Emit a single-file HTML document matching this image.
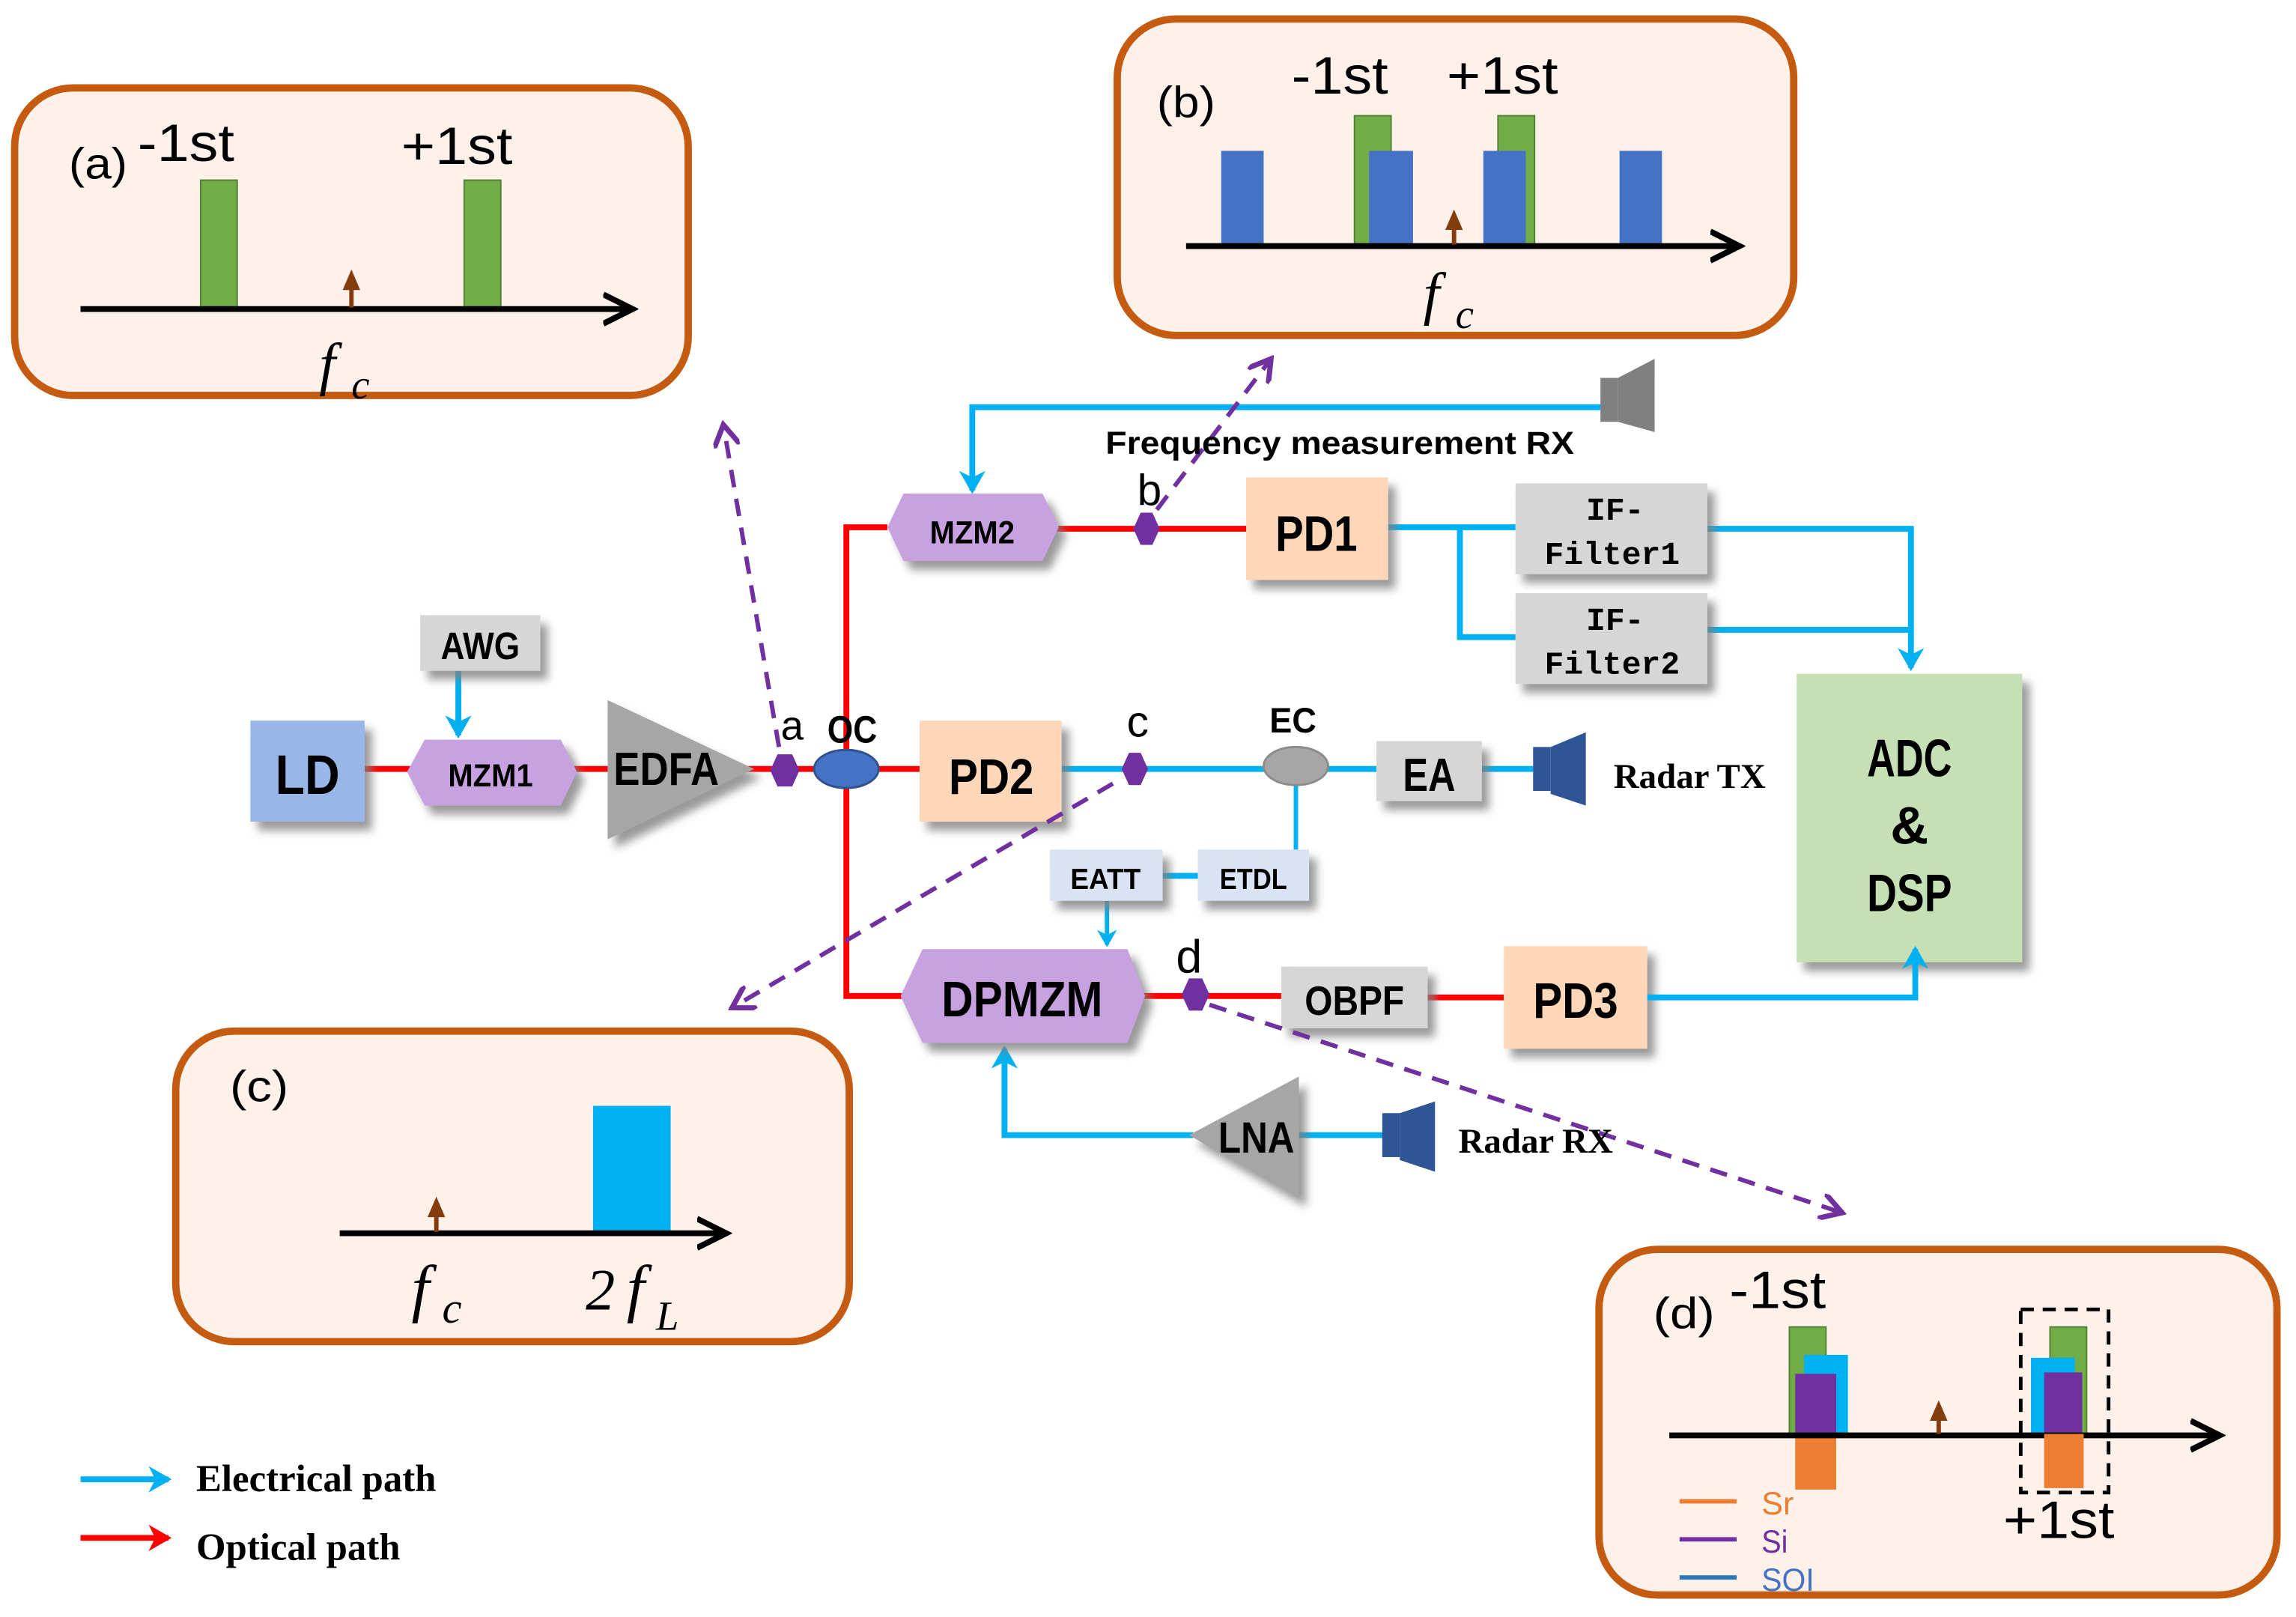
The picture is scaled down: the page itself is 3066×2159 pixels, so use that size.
<!DOCTYPE html>
<html><head><meta charset="utf-8"><style>
html,body{margin:0;padding:0;background:#fff;}
svg{display:block;}
text{font-family:"Liberation Sans Narrow","Liberation Sans",sans-serif;font-weight:bold;fill:#000;}
.s{font-family:"Liberation Serif",serif;font-weight:bold;}
.m{font-family:"Liberation Mono",monospace;font-weight:bold;}
.i{font-family:"Liberation Serif",serif;font-style:italic;font-weight:normal;}
.n{font-family:"Liberation Sans",sans-serif;font-weight:normal;}
</style></head><body>
<svg width="3066" height="2159" viewBox="0 0 1568 1104" preserveAspectRatio="none" xmlns="http://www.w3.org/2000/svg">
<defs>
<filter id="sh" x="-20%" y="-20%" width="150%" height="150%"><feDropShadow dx="5" dy="6" stdDeviation="3" flood-color="#808080" flood-opacity="0.8"/></filter>
<marker id="ab" viewBox="0 0 8 8" markerWidth="4.5" markerHeight="4.5" refX="6" refY="4" orient="auto" markerUnits="strokeWidth"><path d="M0,0 L7,4 L0,8 L2,4z" fill="#00b0f0"/></marker>
<marker id="ar" viewBox="0 0 8 8" markerWidth="4.5" markerHeight="4.5" refX="6" refY="4" orient="auto" markerUnits="strokeWidth"><path d="M0,0 L7,4 L0,8 L2,4z" fill="#ff0000"/></marker>
<marker id="ap" markerWidth="6" markerHeight="6" refX="5" refY="3" orient="auto" markerUnits="strokeWidth"><path d="M0,0 L5,3 L0,6" fill="none" stroke="#7030a0" stroke-width="1.2"/></marker>
<marker id="ak" markerWidth="6" markerHeight="6" refX="5" refY="3" orient="auto" markerUnits="strokeWidth"><path d="M0,0.5 L5,3 L0,5.5" fill="none" stroke="#000" stroke-width="1"/></marker>
</defs>

<!-- Box (a) -->
<rect x="10" y="60" width="460" height="210" rx="40" fill="#fdf1ea" stroke="#c55a11" stroke-width="5"/>
<text x="47" y="122" class="n" font-size="30" textLength="40" lengthAdjust="spacingAndGlyphs">(a)</text>
<text x="94" y="110" class="n" font-size="36" textLength="66" lengthAdjust="spacingAndGlyphs">-1st</text>
<text x="274" y="112" class="n" font-size="36" textLength="76" lengthAdjust="spacingAndGlyphs">+1st</text>
<rect x="137" y="123" width="25" height="87" fill="#70ad47" stroke="#548235"/>
<rect x="317" y="123" width="25" height="87" fill="#70ad47" stroke="#548235"/>
<line x1="55" y1="211" x2="432" y2="211" stroke="#000" stroke-width="4" marker-end="url(#ak)"/>
<line x1="240" y1="210" x2="240" y2="196" stroke="#843c0c" stroke-width="3"/>
<path d="M234,198 L240,184 L246,198z" fill="#843c0c"/>
<text x="218" y="262" class="i" font-size="40">f</text><text x="240" y="272" class="i" font-size="28">c</text>

<!-- Box (b) -->
<rect x="763" y="13" width="462" height="216" rx="40" fill="#fdf1ea" stroke="#c55a11" stroke-width="5"/>
<text x="790" y="80" class="n" font-size="30" textLength="40" lengthAdjust="spacingAndGlyphs">(b)</text>
<text x="882" y="64" class="n" font-size="36" textLength="66" lengthAdjust="spacingAndGlyphs">-1st</text>
<text x="988" y="64" class="n" font-size="36" textLength="76" lengthAdjust="spacingAndGlyphs">+1st</text>
<rect x="925" y="79" width="25" height="89" fill="#70ad47" stroke="#548235"/>
<rect x="1023" y="79" width="25" height="89" fill="#70ad47" stroke="#548235"/>
<rect x="834" y="103" width="29" height="65" fill="#4472c4"/>
<rect x="935" y="103" width="30" height="65" fill="#4472c4"/>
<rect x="1013" y="103" width="29" height="65" fill="#4472c4"/>
<rect x="1106" y="103" width="29" height="65" fill="#4472c4"/>
<line x1="810" y1="168" x2="1188" y2="168" stroke="#000" stroke-width="4" marker-end="url(#ak)"/>
<line x1="993" y1="167" x2="993" y2="155" stroke="#843c0c" stroke-width="3"/>
<path d="M987,157 L993,143 L999,157z" fill="#843c0c"/>
<text x="972" y="214" class="i" font-size="40">f</text><text x="994" y="224" class="i" font-size="28">c</text>

<!-- Box (c) -->
<rect x="120" y="704" width="460" height="212" rx="40" fill="#fdf1ea" stroke="#c55a11" stroke-width="5"/>
<text x="157" y="752" class="n" font-size="30" textLength="40" lengthAdjust="spacingAndGlyphs">(c)</text>
<rect x="405" y="755" width="53" height="87" fill="#00b0f0"/>
<line x1="232" y1="842" x2="496" y2="842" stroke="#000" stroke-width="4" marker-end="url(#ak)"/>
<line x1="298" y1="841" x2="298" y2="829" stroke="#843c0c" stroke-width="3"/>
<path d="M292,831 L298,817 L304,831z" fill="#843c0c"/>
<text x="281" y="894" class="i" font-size="44">f</text><text x="302" y="903" class="i" font-size="30">c</text>
<text x="400" y="894" class="i" font-size="40">2</text><text x="428" y="894" class="i" font-size="44">f</text><text x="448" y="908" class="i" font-size="28">L</text>

<!-- Box (d) -->
<rect x="1092" y="853" width="463" height="236" rx="40" fill="#fdf1ea" stroke="#c55a11" stroke-width="5"/>
<text x="1129" y="907" class="n" font-size="30" textLength="42" lengthAdjust="spacingAndGlyphs">(d)</text>
<text x="1181" y="893" class="n" font-size="36" textLength="66" lengthAdjust="spacingAndGlyphs">-1st</text>
<rect x="1222" y="906" width="25" height="74" fill="#70ad47" stroke="#548235"/>
<rect x="1232" y="925" width="30" height="55" fill="#00b0f0"/>
<rect x="1226" y="938" width="28" height="42" fill="#7030a0"/>
<rect x="1226" y="980" width="28" height="37" fill="#ed7d31"/>
<rect x="1400" y="906" width="25" height="74" fill="#70ad47" stroke="#548235"/>
<rect x="1387" y="927" width="30" height="53" fill="#00b0f0"/>
<rect x="1396" y="937" width="26" height="43" fill="#7030a0"/>
<line x1="1140" y1="980" x2="1516" y2="980" stroke="#000" stroke-width="4" marker-end="url(#ak)"/>
<rect x="1396" y="979" width="27" height="37" fill="#ed7d31"/>
<rect x="1380" y="894" width="60" height="125" fill="none" stroke="#000" stroke-width="2.5" stroke-dasharray="9,6"/>
<line x1="1324" y1="979" x2="1324" y2="968" stroke="#843c0c" stroke-width="3"/>
<path d="M1318,970 L1324,956 L1330,970z" fill="#843c0c"/>
<line x1="1147" y1="1025" x2="1186" y2="1025" stroke="#ed7d31" stroke-width="3"/>
<line x1="1147" y1="1051" x2="1186" y2="1051" stroke="#7030a0" stroke-width="3"/>
<line x1="1147" y1="1077" x2="1186" y2="1077" stroke="#2e75b6" stroke-width="3"/>
<text x="1203" y="1034" class="n" font-size="22" style="fill:#ed7d31" textLength="22" lengthAdjust="spacingAndGlyphs">Sr</text>
<text x="1203" y="1060" class="n" font-size="22" style="fill:#7030a0" textLength="18" lengthAdjust="spacingAndGlyphs">Si</text>
<text x="1203" y="1086" class="n" font-size="22" style="fill:#4472c4" textLength="36" lengthAdjust="spacingAndGlyphs">SOI</text>
<text x="1368" y="1050" class="n" font-size="36" textLength="76" lengthAdjust="spacingAndGlyphs">+1st</text>

<!-- Optical (red) lines -->
<g stroke="#ff0000" stroke-width="4" fill="none">
<line x1="249" y1="525" x2="280" y2="525"/>
<line x1="392" y1="525" x2="415" y2="525"/>
<line x1="510" y1="525" x2="628" y2="525"/>
<polyline points="606,360 578,360 578,680 617,680"/>
<line x1="720" y1="361" x2="851" y2="361"/>
<line x1="780" y1="680" x2="875" y2="680"/>
<line x1="975" y1="681" x2="1027" y2="681"/>
</g>

<!-- Electrical (blue) lines -->
<g stroke="#00b0f0" stroke-width="4" fill="none">
<line x1="313" y1="458" x2="313" y2="502" marker-end="url(#ab)"/>
<polyline points="1095,278 664,278 664,335" marker-end="url(#ab)"/>
<line x1="948" y1="360" x2="1035" y2="360"/>
<polyline points="997,360 997,435 1035,435"/>
<polyline points="1166,361 1305,361 1305,456" marker-end="url(#ab)"/>
<line x1="1166" y1="430" x2="1305" y2="430"/>
<line x1="725" y1="525" x2="865" y2="525"/>
<line x1="905" y1="525" x2="940" y2="525"/>
<line x1="1012" y1="525" x2="1047" y2="525"/>
<line x1="885" y1="535" x2="885" y2="582" stroke-width="3"/>
<line x1="794" y1="598" x2="818" y2="598"/>
<line x1="756" y1="615" x2="756" y2="645" stroke-width="3" marker-end="url(#ab)"/>
<line x1="887" y1="775" x2="945" y2="775"/>
<polyline points="815,775 686,775 686,716" marker-end="url(#ab)"/>
</g>

<!-- Components -->
<g filter="url(#sh)">
<rect x="171" y="492" width="78" height="69" fill="#99b6e8"/>
<rect x="287" y="420" width="82" height="38" fill="#d6d6d6"/>
<polygon points="290,505 383,505 394,527 383,550 290,550 278,527" fill="#c8a2e0"/>
<polygon points="415,478 515,525 415,573" fill="#a6a6a6"/>
<polygon points="617,337 712,337 723,360 712,383 617,383 606,360" fill="#c8a2e0"/>
<rect x="851" y="326" width="97" height="70" fill="#fdd7b8"/>
<rect x="1035" y="330" width="131" height="62" fill="#d6d6d6"/>
<rect x="1035" y="405" width="131" height="62" fill="#d6d6d6"/>
<rect x="1227" y="460" width="154" height="197" fill="#c5e0b4"/>
<rect x="628" y="492" width="97" height="69" fill="#fdd7b8"/>
<rect x="940" y="506" width="72" height="41" fill="#d6d6d6"/>
<rect x="717" y="580" width="77" height="35" fill="#dae3f3"/>
<rect x="818" y="580" width="76" height="35" fill="#dae3f3"/>
<polygon points="630,648 770,648 782,680 770,712 630,712 615,680" fill="#c8a2e0"/>
<rect x="875" y="660" width="100" height="42" fill="#d6d6d6"/>
<rect x="1027" y="646" width="98" height="70" fill="#fdd7b8"/>
<polygon points="887,735 887,818 812,775" fill="#a6a6a6"/>
</g>
<polyline points="1125,681 1308,681 1308,648" stroke="#00b0f0" stroke-width="4" fill="none" marker-end="url(#ab)"/>

<!-- markers/dots -->
<polygon points="531,515 541,515 546,526 541,537 531,537 526,526" fill="#7030a0"/>
<ellipse cx="578" cy="525" rx="22" ry="13" fill="#4472c4" stroke="#2f528f" stroke-width="1.5"/>
<polygon points="779,350 787,350 792,361 787,372 779,372 774,361" fill="#7030a0"/>
<polygon points="771,514 779,514 784,525 779,536 771,536 766,525" fill="#7030a0"/>
<ellipse cx="885" cy="523" rx="22" ry="13" fill="#a6a6a6" stroke="#8c8c8c" stroke-width="1.5"/>
<polygon points="812,668 821,668 826,679 821,690 812,690 807,679" fill="#7030a0"/>

<!-- speakers -->
<g fill="#808080"><rect x="1093" y="258" width="12" height="30"/><polygon points="1105,258 1130,245 1130,295 1105,288"/></g>
<g fill="#2f5597"><rect x="1047" y="510" width="12" height="30"/><polygon points="1059,510 1083,500 1083,550 1059,542"/></g>
<g fill="#2f5597"><rect x="944" y="760" width="12" height="30"/><polygon points="956,760 980,752 980,800 956,792"/></g>

<!-- dashed purple -->
<g stroke="#7030a0" stroke-width="3" stroke-dasharray="12,8" fill="none">
<line x1="532" y1="510" x2="494" y2="290" marker-end="url(#ap)"/>
<line x1="790" y1="348" x2="868" y2="245" marker-end="url(#ap)"/>
<line x1="760" y1="535" x2="500" y2="688" marker-end="url(#ap)"/>
<line x1="826" y1="686" x2="1258" y2="828" marker-end="url(#ap)"/>
</g>

<!-- labels -->
<text x="210" y="542" font-size="38" text-anchor="middle" textLength="44" lengthAdjust="spacingAndGlyphs">LD</text>
<text x="328" y="450" font-size="26" text-anchor="middle" textLength="54" lengthAdjust="spacingAndGlyphs">AWG</text>
<text x="335" y="537" font-size="22" text-anchor="middle" textLength="58" lengthAdjust="spacingAndGlyphs">MZM1</text>
<text x="455" y="536" font-size="32" text-anchor="middle" textLength="72" lengthAdjust="spacingAndGlyphs">EDFA</text>
<text x="541" y="505" font-size="28" text-anchor="middle" class="n">a</text>
<text x="582" y="507" font-size="26" text-anchor="middle" textLength="34" lengthAdjust="spacingAndGlyphs">OC</text>
<text x="664" y="371" font-size="22" text-anchor="middle" textLength="58" lengthAdjust="spacingAndGlyphs">MZM2</text>
<text x="785" y="345" font-size="30" text-anchor="middle" class="n">b</text>
<text x="899" y="376" font-size="34" text-anchor="middle" textLength="56" lengthAdjust="spacingAndGlyphs">PD1</text>
<text x="915" y="310" font-size="22" class="n" style="font-weight:bold" text-anchor="middle" textLength="320" lengthAdjust="spacingAndGlyphs">Frequency measurement RX</text>
<text x="1103" y="355" font-size="22" class="m" text-anchor="middle">IF-</text>
<text x="1101" y="385" font-size="22" class="m" text-anchor="middle">Filter1</text>
<text x="1103" y="430" font-size="22" class="m" text-anchor="middle">IF-</text>
<text x="1101" y="460" font-size="22" class="m" text-anchor="middle">Filter2</text>
<text x="1304" y="530" font-size="36" text-anchor="middle" textLength="58" lengthAdjust="spacingAndGlyphs">ADC</text>
<text x="1304" y="576" font-size="36" text-anchor="middle">&amp;</text>
<text x="1304" y="622" font-size="36" text-anchor="middle" textLength="58" lengthAdjust="spacingAndGlyphs">DSP</text>
<text x="677" y="542" font-size="34" text-anchor="middle" textLength="58" lengthAdjust="spacingAndGlyphs">PD2</text>
<text x="777" y="503" font-size="30" text-anchor="middle" class="n">c</text>
<text x="883" y="500" font-size="24" text-anchor="middle" textLength="32" lengthAdjust="spacingAndGlyphs">EC</text>
<text x="976" y="540" font-size="32" text-anchor="middle" textLength="36" lengthAdjust="spacingAndGlyphs">EA</text>
<text x="1102" y="538" font-size="24" class="s">Radar TX</text>
<text x="755" y="607" font-size="20" text-anchor="middle" textLength="48" lengthAdjust="spacingAndGlyphs">EATT</text>
<text x="856" y="607" font-size="20" text-anchor="middle" textLength="46" lengthAdjust="spacingAndGlyphs">ETDL</text>
<text x="698" y="694" font-size="34" text-anchor="middle" textLength="110" lengthAdjust="spacingAndGlyphs">DPMZM</text>
<text x="812" y="664" font-size="32" text-anchor="middle" class="n">d</text>
<text x="925" y="693" font-size="28" text-anchor="middle" textLength="68" lengthAdjust="spacingAndGlyphs">OBPF</text>
<text x="1076" y="695" font-size="34" text-anchor="middle" textLength="58" lengthAdjust="spacingAndGlyphs">PD3</text>
<text x="858" y="787" font-size="30" text-anchor="middle" textLength="52" lengthAdjust="spacingAndGlyphs">LNA</text>
<text x="996" y="787" font-size="24" class="s">Radar RX</text>

<!-- legend -->
<line x1="55" y1="1010" x2="115" y2="1010" stroke="#00b0f0" stroke-width="4" marker-end="url(#ab)"/>
<text x="134" y="1018" font-size="26" class="s">Electrical path</text>
<line x1="55" y1="1050" x2="115" y2="1050" stroke="#ff0000" stroke-width="4" marker-end="url(#ar)"/>
<text x="134" y="1065" font-size="26" class="s">Optical path</text>
</svg>
</body></html>
